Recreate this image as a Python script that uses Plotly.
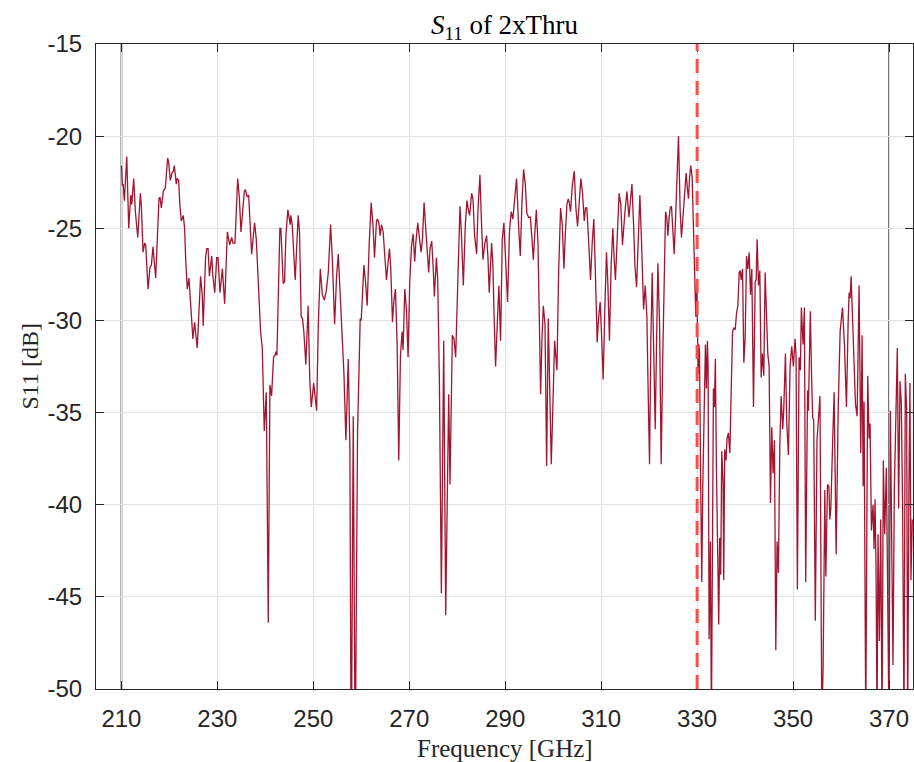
import plotly.graph_objects as go

# Measured reflection of the 2xThru structure
freq_ghz = [
    210.00, 210.21, 210.35, 210.62, 211.11, 211.52, 211.94, 212.15, 212.56, 212.91,
    213.40, 213.95, 214.16, 214.51, 214.85, 215.06, 215.55, 215.96, 216.24, 216.58,
    217.14, 217.49, 217.83, 218.04, 218.32, 218.73, 219.15, 219.63, 219.84, 220.19,
    220.54, 220.81, 221.02, 221.23, 221.44, 221.58, 221.92, 222.20, 222.48, 222.89,
    223.17, 223.38, 223.72, 224.07, 224.42, 224.90, 225.25, 225.46, 225.80, 226.15,
    226.50, 226.84, 227.05, 227.33, 227.54,
    227.78, 228.06, 228.34, 228.82, 229.03, 229.45, 229.86, 230.14, 230.55, 231.04,
    231.52, 232.08, 232.56, 232.98, 233.26, 233.67, 234.23, 234.57, 234.92, 235.61,
    235.82, 236.03, 236.24, 236.52, 237.14, 237.76, 238.11, 239.01, 239.36, 239.77,
    240.19, 240.61, 240.95, 241.30, 241.71, 241.99, 242.20, 242.41, 242.62, 243.03,
    243.24, 243.72, 244.00, 244.28, 244.69, 244.97, 245.18, 245.32, 245.60, 246.22,
    246.84, 247.12, 247.47, 247.74, 248.02, 248.44, 248.92, 249.27,
    249.58, 250.07, 250.69, 251.04, 251.46, 251.87, 252.29, 252.70, 253.12, 253.60,
    253.95, 254.44, 254.85, 255.20, 255.61, 256.03, 256.38, 256.79, 257.28, 257.62,
    257.90, 258.32, 258.73, 259.22, 259.77, 259.98, 260.54, 260.88, 261.23, 261.64,
    262.06, 262.48, 262.75, 263.17, 263.38, 263.65, 263.93, 264.21, 264.56, 264.90,
    265.25, 265.60, 265.87, 266.15, 266.50, 266.77, 267.12, 267.47, 267.81, 268.16,
    268.51, 268.71, 269.06, 269.41, 269.75, 270.10, 270.45, 270.79, 271.14,
    271.36, 271.77, 272.05, 272.46, 272.74, 273.09, 273.43, 273.78, 274.05, 274.33,
    274.68, 275.02, 275.23, 275.65, 275.93, 276.28, 276.69, 277.18, 277.59, 278.22,
    278.49, 278.98, 279.33, 279.67, 280.16, 280.57, 280.85, 281.27, 281.68, 282.03,
    282.31, 282.58, 283.00, 283.28, 283.62, 284.04, 284.32, 284.73, 285.01, 285.36,
    285.77, 286.12, 286.40, 286.67, 287.16, 287.44, 287.64, 287.99, 288.34, 288.68,
    289.03, 289.38, 289.72, 290.07, 290.49, 290.90, 291.25, 291.59, 292.01, 292.36,
    292.81, 293.14, 293.49, 293.83, 294.18, 294.52, 294.87, 295.24, 295.58, 295.86,
    296.14, 296.48, 296.83, 297.11, 297.38, 297.66, 297.94, 298.29, 298.63, 298.98,
    299.26, 299.60, 299.95, 300.30, 300.57, 300.78, 301.13, 301.54, 301.89, 302.24,
    302.51, 302.86, 303.14, 303.35, 303.62, 303.97, 304.39, 304.73, 305.08, 305.43,
    305.77, 306.12, 306.47, 306.74, 307.02, 307.37, 307.78, 308.13, 308.47, 308.75,
    309.17, 309.45, 309.79, 310.07, 310.42, 310.76, 311.11, 311.39, 311.73, 312.08,
    312.43, 312.70, 312.98, 313.33, 313.74, 314.09, 314.44,
    314.96, 315.37, 315.79, 316.07, 316.41, 316.76, 317.03, 317.38, 317.73, 318.07,
    318.42, 318.70, 318.84, 319.19, 319.53, 319.81, 320.08, 320.36, 320.64, 320.92,
    321.27, 321.54, 321.82, 322.17, 322.51, 322.86, 323.14, 323.42, 323.69, 323.90,
    324.18, 324.39, 324.66, 324.94, 325.22, 325.49, 325.77, 326.12, 326.46, 326.74,
    327.02, 327.36, 327.71, 327.99, 328.20, 328.41, 328.68, 328.96, 329.24, 329.51,
    329.72, 329.93, 330.07, 330.21, 330.35, 330.49, 330.76, 330.97, 331.18, 331.46,
    331.59, 331.73, 331.94, 332.15, 332.29, 332.50, 332.77, 332.98, 333.19, 333.40,
    333.61, 333.81, 334.02, 334.30, 334.51, 334.71, 334.92, 335.13, 335.41, 335.55,
    335.75, 336.03, 336.24, 336.52,
    336.83, 337.11, 337.39, 337.66, 337.94, 338.22, 338.49, 338.77, 338.98, 339.19,
    339.47, 339.74, 340.02, 340.30, 340.57, 340.85, 341.13, 341.40, 341.75, 342.10,
    342.31, 342.51, 342.79, 343.07, 343.35, 343.62, 343.90, 344.18, 344.45, 344.73,
    345.01, 345.29, 345.56, 345.84, 346.12, 346.40, 346.67, 346.95, 347.23, 347.51,
    347.85, 348.06, 348.41, 348.68, 349.03, 349.38, 349.72, 350.07, 350.42, 350.62,
    350.90, 351.25, 351.53, 351.73, 352.08, 352.36, 352.63, 353.02, 353.19, 353.60,
    353.88, 354.09, 354.30, 354.64, 354.99, 355.27, 355.61,
    356.00, 356.27, 356.62, 356.83, 357.18, 357.46, 357.66, 357.87, 358.22, 358.56,
    358.98, 359.40, 359.81, 360.30, 360.71, 361.13, 361.47, 361.68, 361.89, 362.10,
    362.31, 362.65, 363.00, 363.35, 363.76, 364.11, 364.39, 364.61, 364.80, 365.15,
    365.56, 365.84, 366.05, 366.33, 366.67, 366.88, 367.09, 367.30, 367.50, 367.71,
    367.99, 368.27, 368.54, 368.82, 369.10, 369.45, 369.72, 370.00, 370.28, 370.55,
    370.83, 371.11, 371.39, 371.73, 372.01, 372.29, 372.56, 372.84, 373.12, 373.40,
    373.68, 373.88, 374.16, 374.36, 374.57, 374.85,
]

s11_db = [
    -21.6, -22.7, -22.6, -23.5, -21.1, -25.0, -23.2, -23.7, -22.3, -24.1,
    -25.5, -23.1, -23.8, -26.3, -25.8, -25.9, -28.3, -27.1, -27.0, -26.0,
    -27.7, -25.0, -23.4, -23.3, -23.9, -23.0, -22.8, -21.2, -21.4, -22.4,
    -22.0, -21.9, -21.6, -22.1, -22.6, -22.3, -22.4, -23.8, -24.6, -24.3,
    -25.0, -26.6, -28.3, -27.7, -29.2, -31.0, -30.1, -30.6, -31.5, -29.6,
    -27.6, -28.6, -30.3, -28.1, -26.6,
    -26.1, -26.1, -27.6, -26.5, -27.5, -28.5, -26.6, -26.6, -28.5, -27.2,
    -29.1, -25.2, -25.9, -25.5, -25.8, -25.8, -22.3, -23.3, -25.2, -23.0,
    -22.9, -23.2, -23.3, -23.2, -26.4, -24.7, -25.6, -30.6, -31.5, -36.0,
    -33.9, -46.4, -33.5, -34.1, -32.0, -31.9, -31.7, -31.9, -29.8, -25.0,
    -25.0, -28.0, -27.9, -25.4, -24.0, -24.4, -24.8, -24.3, -24.8, -27.8,
    -24.3, -25.2, -29.8, -29.9, -30.6, -32.4, -29.2, -33.3,
    -34.7, -33.4, -34.9, -30.2, -27.2, -28.6, -28.9, -28.4, -27.4, -24.8,
    -26.6, -30.2, -27.6, -26.4, -28.6, -30.8, -32.9, -36.5, -32.1, -36.9,
    -55.0, -35.2, -54.0, -36.1, -29.9, -30.0, -27.0, -27.9, -29.2, -25.9,
    -23.6, -25.0, -26.6, -24.6, -24.5, -24.7, -25.4, -24.8, -25.2, -26.5,
    -27.8, -26.8, -26.1, -27.2, -30.1, -29.0, -28.3, -31.3, -37.6, -31.9,
    -30.6, -31.6, -28.3, -29.4, -32.0, -27.9, -26.0, -25.3, -26.8,
    -25.8, -24.7, -25.4, -26.3, -25.6, -23.6, -25.0, -26.6, -27.4, -26.1,
    -25.7, -27.3, -28.7, -26.6, -27.8, -33.3, -44.8, -31.1, -46.0, -34.0,
    -38.9, -30.8, -31.0, -32.0, -27.4, -23.8, -25.2, -28.1, -24.8, -23.5,
    -24.0, -24.3, -23.1, -23.4, -25.4, -26.4, -24.0, -22.1, -24.4, -26.7,
    -25.8, -25.4, -26.6, -28.5, -25.8, -27.0, -29.4, -32.5, -30.2, -28.1,
    -31.1, -25.6, -24.7, -26.6, -29.0, -25.1, -24.1, -24.5, -23.5, -22.3,
    -25.0, -26.5, -23.6, -21.8, -22.6, -24.2, -24.4, -24.4, -25.6, -26.7,
    -25.4, -24.0, -25.8, -29.4, -34.0, -31.0, -29.2, -30.2, -37.9, -29.9,
    -33.3, -37.8, -34.5, -31.1, -32.0, -32.7, -27.4, -23.9, -24.8, -27.2,
    -25.4, -23.7, -23.4, -23.6, -24.1, -22.7, -21.9, -23.9, -24.9, -23.3,
    -22.3, -23.1, -24.6, -23.9, -23.9, -25.6, -27.8, -25.8, -24.5, -27.0,
    -31.2, -29.9, -29.0, -30.7, -33.2, -29.4, -26.3, -28.0, -31.1, -27.0,
    -25.0, -26.6, -27.8, -25.6, -23.1, -23.7, -25.9,
    -24.1, -23.0, -24.4, -23.5, -22.6, -24.8, -27.0, -28.2, -25.6, -23.2,
    -25.8, -28.1, -29.4, -28.1, -29.8, -34.1, -37.8, -31.0, -27.4, -31.3,
    -35.9, -31.3, -26.9, -30.2, -37.8, -31.7, -26.9, -24.1, -24.4, -25.4,
    -24.4, -23.9, -23.8, -25.4, -26.4, -24.6, -21.9, -20.0, -24.0, -25.5,
    -24.5, -23.2, -22.0, -22.9, -23.4, -22.3, -21.6, -22.2, -25.0, -28.1,
    -29.8, -27.8, -30.2, -32.9, -31.3, -31.7, -39.2, -44.2, -39.0, -34.9,
    -31.7, -31.3, -33.7, -31.1, -32.5, -47.3, -42.0, -52.0, -42.8, -33.7,
    -34.7, -32.1, -37.9, -44.0, -46.5, -41.8, -43.8, -37.1, -38.8, -44.1,
    -37.0, -37.6, -36.4, -36.1,
    -37.2, -33.7, -30.6, -30.4, -30.5, -29.6, -29.2, -27.4, -27.3, -27.8,
    -27.2, -32.3, -30.9, -26.5, -27.2, -26.3, -28.6, -27.2, -34.7, -27.9,
    -27.8, -25.6, -28.1, -27.3, -33.1, -31.8, -33.0, -27.4, -29.8, -31.8,
    -32.5, -39.9, -35.8, -38.3, -36.5, -47.9, -42.0, -43.7, -36.9, -34.1,
    -35.9, -34.8, -31.8, -35.5, -37.3, -32.5, -31.4, -32.5, -31.0, -31.9,
    -44.6, -32.0, -32.7, -29.3, -31.3, -29.3, -44.2, -33.8, -34.9, -29.5,
    -33.3, -35.3, -35.4, -46.3, -36.5, -35.3, -34.1,
    -52.0, -48.7, -39.2, -43.9, -38.9, -39.0, -40.8, -40.2, -36.9, -33.9,
    -42.7, -34.9, -30.6, -29.3, -31.3, -34.7, -30.2, -28.5, -28.8, -27.6,
    -29.2, -32.5, -34.5, -35.2, -28.1, -37.2, -30.8, -39.0, -34.4, -52.0,
    -33.0, -36.4, -35.6, -41.4, -40.0, -42.4, -39.7, -43.6, -52.0, -41.6,
    -47.4, -40.8, -52.0, -37.6, -41.6, -38.0, -43.2, -52.0, -34.9, -41.2,
    -48.7, -39.2, -35.5, -31.5, -40.2, -33.3, -34.5, -40.3, -52.0, -32.9,
    -34.9, -52.0, -38.8, -33.4, -44.1, -40.8,
]

x_ticks = [210, 230, 250, 270, 290, 310, 330, 350, 370]
x_tick_labels = ["210", "230", "250", "270", "290", "310", "330", "350", "370"]
y_ticks = [-50, -45, -40, -35, -30, -25, -20, -15]
y_tick_labels = ["-50", "-45", "-40", "-35", "-30", "-25", "-20", "-15"]
band_edges = [210, 370]
cutoff_ghz = 330

AXIS_COLOR = "#262626"
GRID_COLOR = "#e2e2e2"
TICK_FONT = dict(family="Liberation Sans, Arial, sans-serif", size=24, color=AXIS_COLOR)
SERIF = "Liberation Serif, Times New Roman, serif"

fig = go.Figure()
fig.add_trace(go.Scatter(
    x=freq_ghz, y=s11_db, mode="lines",
    line=dict(color="#A2142F", width=1.3),
    showlegend=False, hoverinfo="x+y",
))

shapes = []
for f in band_edges:
    shapes.append(dict(type="line", xref="x", yref="paper", x0=f, x1=f, y0=0, y1=1,
                       line=dict(color="#666666", width=1.8), layer="between"))
shapes.append(dict(type="line", xref="x", yref="paper", x0=cutoff_ghz, x1=cutoff_ghz,
                   y0=0, y1=1, line=dict(color="#ff4a4a", width=3, dash="14px,8px"),
                   layer="above"))

fig.update_layout(
    width=914, height=762,
    margin=dict(l=96, r=1, t=44, b=73),
    paper_bgcolor="white", plot_bgcolor="white",
    shapes=shapes,
    title=dict(text="<i>S</i><sub>11</sub> of 2xThru", x=0.552, xanchor="center",
               y=1 - 25 / 762, yanchor="middle",
               font=dict(family=SERIF, size=27, color="black")),
    annotations=[
        dict(text="Frequency [GHz]", xref="paper", yref="paper", x=0.5, y=-73 / 645,
             xanchor="center", yanchor="bottom", yshift=-2, showarrow=False,
             font=dict(family=SERIF, size=25, color=AXIS_COLOR)),
        dict(text="S11 [dB]", xref="paper", yref="paper", x=-96 / 817, y=0.5,
             xanchor="left", yanchor="middle", xshift=14, textangle=-90, showarrow=False,
             font=dict(family=SERIF, size=24, color=AXIS_COLOR)),
    ],
)

fig.update_xaxes(
    range=[204.7, 375.0], tickvals=x_ticks, ticktext=x_tick_labels,
    ticks="inside", ticklen=8,
    tickcolor=AXIS_COLOR, showline=True, linecolor=AXIS_COLOR, linewidth=1,
    mirror="ticks", showgrid=True, gridcolor=GRID_COLOR, gridwidth=1,
    zeroline=False, tickfont=TICK_FONT, ticklabelstandoff=8,
)
fig.update_yaxes(
    range=[-50, -15], tickvals=y_ticks, ticktext=y_tick_labels,
    ticks="inside", ticklen=8,
    tickcolor=AXIS_COLOR, showline=True, linecolor=AXIS_COLOR, linewidth=1,
    mirror="ticks", showgrid=True, gridcolor=GRID_COLOR, gridwidth=1,
    zeroline=False, tickfont=TICK_FONT, ticklabelstandoff=8,
)

fig.write_html("out.html")
